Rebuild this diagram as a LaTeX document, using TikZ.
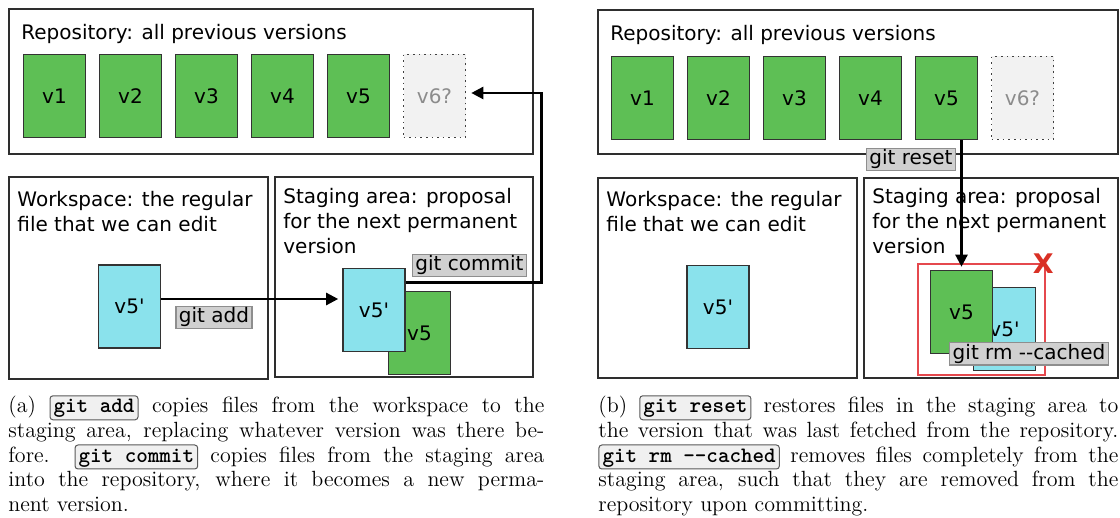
\documentclass[tikz,border=0pt]{standalone}
\usepackage{fontspec}
\usepackage{tikz}
\usetikzlibrary{arrows.meta,positioning,calc}
\newfontfamily\diafont{DejaVu Sans}
\definecolor{vgreen}   {HTML}{5EBF55}
\definecolor{vcyan}    {HTML}{8AE2EC}
\definecolor{vgrey}    {HTML}{F2F2F2}
\definecolor{lblfill}  {HTML}{D0D0D0}
\definecolor{lblline}  {HTML}{8E8E8E}
\definecolor{panelline}{HTML}{2E2E2E}
\definecolor{rmred}    {HTML}{E5484D}
\definecolor{xred}     {HTML}{D93025}
\definecolor{cmdfill}  {HTML}{F0F0F0}
\tikzset{cmdbox/.style={draw=black!65,fill=cmdfill,rounded corners=1.5pt,line width=0.5pt,
                        inner xsep=1.8pt,inner ysep=1.4pt,text height=7.2pt,text depth=2pt,
                        font=\ttfamily\bfseries}}
\newcommand{\gitcmd}[1]{\tikz[baseline=(cmd.base)]\node[cmdbox] (cmd) {#1};}

\begin{document}
\begin{tikzpicture}[
  panel/.style={draw=panelline,line width=1pt},
  ptext/.style={font=\diafont\fontsize{10}{12.5}\selectfont,inner sep=0pt,
                align=left,anchor=base west},
  ver/.style={draw=black!80,line width=0.8pt,minimum width=31pt,minimum height=41.5pt,
              inner sep=0pt,font=\diafont\fontsize{10}{12}\selectfont},
  verold/.style={ver,fill=vgreen},
  vernew/.style={ver,fill=vcyan},
  verpending/.style={ver,fill=vgrey,draw=black!75,dotted,text=black!45},
  lbl/.style={draw=lblline,fill=lblfill,line width=0.6pt,inner xsep=1.5pt,inner ysep=0.6pt,
              text height=7.6pt,text depth=2.3pt,font=\diafont\fontsize{10}{12}\selectfont},
  arr/.style={-{Triangle[length=6pt,width=6pt]},line width=1.2pt},
  captext/.style={anchor=base west,inner sep=0pt},
  x=0.5pt, y=-0.5pt
]
\useasboundingbox (0,0) rectangle (1120,518);

% --- (a) panels ---
\draw[panel] (9,9)    rectangle (533,154);
\draw[panel] (9,177)  rectangle (268,379);
\draw[panel] (275,177) rectangle (533,377);
\node[ptext] (lrepot) at (21,40)  {Repository: all previous versions};
\node[ptext] (lwst)   at (17,232) {Workspace: the regular\\file that we can edit};
\node[ptext] (lstt)   at (283,254) {Staging area: proposal\\for the next permanent\\version};

% --- (a) versions ---
\node[verold] (lv1) at (54.5,96)  {v1};
\node[verold] (lv2) at (130.5,96) {v2};
\node[verold] (lv3) at (206.5,96) {v3};
\node[verold] (lv4) at (282.5,96) {v4};
\node[verold] (lv5) at (358.5,96) {v5};
\node[verpending] (lv6) at (434.5,96) {v6?};
\node[vernew] (lwsnew) at (129.5,306.5) {v5'};
\node[verold] (lstold) at (419.5,333)   {v5};
\node[vernew] (lstnew) at (374,310)     {v5'};

% --- (a) arrows ---
\coordinate (laddy) at (0,299);
\draw[arr,shorten >=2pt] (lwsnew.east |- laddy) -- (lstnew.west |- laddy);
\draw[arr,shorten >=2.5pt] ([yshift=-7.5pt]lstnew.north east)
  -| ([xshift=37.5pt,yshift=1.5pt]lv6.east) -- ([yshift=1.5pt]lv6.east);
\node[lbl] (ladd)    at (214,317.5) {git add};
\node[lbl] (lcommit) at (469.5,265.5) {git commit};

% --- (b) panels ---
\draw[panel] (598,10)  rectangle (1118,154);
\draw[panel] (598,178) rectangle (857,378);
\draw[panel] (864,178) rectangle (1118,378);
\node[ptext] (rrepot) at (610,41)  {Repository: all previous versions};
\node[ptext] (rwst)   at (606,232) {Workspace: the regular\\file that we can edit};
\node[ptext] (rstt)   at (872,254) {Staging area: proposal\\for the next permanent\\version};

% --- (b) versions ---
\node[verold] (rv1) at (642.5,98)  {v1};
\node[verold] (rv2) at (718.5,98)  {v2};
\node[verold] (rv3) at (794.5,98)  {v3};
\node[verold] (rv4) at (870.5,98)  {v4};
\node[verold] (rv5) at (946.5,98)  {v5};
\node[verpending] (rv6) at (1022.5,98) {v6?};
\node[vernew] (rwsnew) at (718,307) {v5'};
\node[draw=rmred,line width=1.2pt,minimum width=63.5pt,minimum height=55.5pt] (rmframe) at (981.5,319.5) {};
\node[vernew] (rstnew) at (1004.5,329) {v5'};
\node[verold] (rstold) at (961.5,312)  {v5};

% --- (b) arrows ---
\draw[arr,shorten >=1.5pt] (rv5.south -| rstold.north) -- (rstold.north);
\node[lbl] (rreset) at (911,159.5) {git reset};
\node[lbl] (rrm) at (1029,354) {git rm -\kern0pt-cached};
\node[text=xred,font=\diafont\bfseries\fontsize{13.5}{14}\selectfont,inner sep=0pt] (rmx) at ([xshift=-1.5pt,yshift=-0.5pt]rmframe.north east) {X};

% --- captions ---
\node[captext] (capa) at (8,413) {\parbox[t]{268pt}{\fontsize{11}{12.3}\selectfont
  (a) \gitcmd{git add} copies files from the workspace to the\linebreak
  staging area, replacing whatever version was there be-\linebreak
  fore. \gitcmd{git commit} copies files from the staging area\linebreak
  into the repository, where it becomes a new perma-\linebreak
  nent version.}};
\node[captext] (capb) at (598,413) {\parbox[t]{260pt}{\fontsize{11}{12.3}\selectfont
  (b) \gitcmd{git reset} restores files in the staging area to\linebreak
  the version that was last fetched from the repository.\linebreak
  \gitcmd{git rm -\kern0pt-cached} removes files completely from the\linebreak
  staging area, such that they are removed from the\linebreak
  repository upon committing.}};
\end{tikzpicture}
\end{document}
